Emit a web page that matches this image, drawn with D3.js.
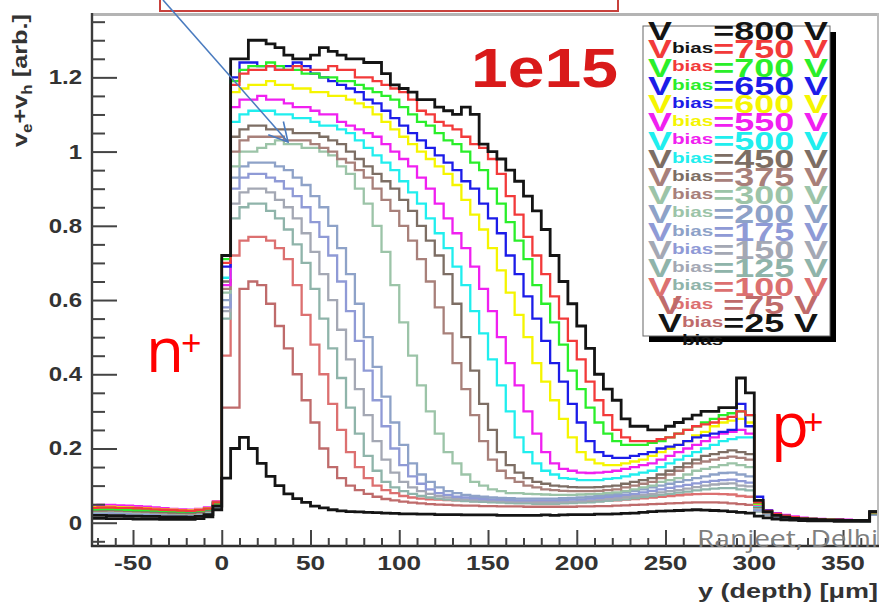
<!DOCTYPE html>
<html>
<head>
<meta charset="utf-8">
<script src="https://cdn.jsdelivr.net/npm/d3@7"></script>
<style>
  html, body { margin: 0; padding: 0; background: #ffffff; }
  svg { display: block; }
</style>
</head>
<body>
<svg id="chart" width="883" height="606"></svg>
<script>
// Histogram binning along the sensor depth (µm): 89 bins of 5 µm starting at -75
const binStart = -75;
const binWidth = 5;

// Bias voltages, in legend order
const biasLabels = ["800", "750", "700", "650", "600", "550", "500", "450", "375",
                    "300", "200", "175", "150", "125", "100", "75", "25"];
const biasColors = ["#141414", "#f23a3a", "#2aee2a", "#1c1ce8", "#f5f500", "#f020f0",
                    "#20eeee", "#7d6e64", "#a8807a", "#9cc4a8", "#8ea2c8", "#8f9ad6",
                    "#a4a8b4", "#8fb4aa", "#dc7070", "#bf6b6b", "#141414"];

// Drift-velocity sum v_e + v_h per bin (arb. units), one array per bias voltage
const v800 = [0.020,0.020,0.019,0.019,0.018,0.018,0.017,0.017,0.016,0.016,0.016,0.015,0.017,0.022,0.045,
  0.72,1.25,1.25,1.30,1.30,1.29,1.28,1.26,1.25,1.25, 1.26,1.28,1.27,1.26,1.25,1.25,1.24,1.24,1.21,1.18,
  1.17,1.16,1.14,1.14,1.12,1.11,1.10,1.12,1.10,1.02, 1.00,0.98,0.95,0.92,0.88,0.84,0.79,0.72,0.65,0.59,
  0.53,0.47,0.40,0.36,0.33,0.28,0.26,0.26,0.25,0.25, 0.26,0.27,0.28,0.29,0.30,0.30,0.31,0.31,0.39,0.35,
  0.060,0.030,0.020,0.015,0.012,0.010,0.009,0.008,0.007,0.007,0.006,0.006,0.006,0.030];
const v750 = [0.040,0.041,0.041,0.040,0.040,0.039,0.038,0.036,0.035,0.034,0.033,0.032,0.034,0.038,0.055,
  0.70,1.18,1.21,1.22,1.22,1.23,1.22,1.22,1.23,1.22, 1.22,1.22,1.23,1.22,1.22,1.20,1.20,1.19,1.18,1.17,
  1.16,1.14,1.11,1.10,1.08,1.07,1.06,1.04,1.02,1.01, 0.98,0.94,0.88,0.83,0.77,0.72,0.67,0.61,0.55,0.49,
  0.44,0.38,0.33,0.29,0.25,0.23,0.22,0.22,0.22,0.225, 0.23,0.24,0.25,0.26,0.265,0.27,0.28,0.285,0.30,0.29,
  0.055,0.032,0.024,0.019,0.015,0.012,0.010,0.009,0.008,0.008,0.007,0.007,0.007,0.028];
const v700 = [0.036,0.037,0.037,0.036,0.035,0.034,0.034,0.033,0.032,0.031,0.030,0.030,0.032,0.036,0.052,
  0.71,1.19,1.22,1.23,1.23,1.24,1.23,1.22,1.22,1.21, 1.21,1.20,1.20,1.19,1.19,1.18,1.17,1.16,1.15,1.14,
  1.12,1.10,1.08,1.07,1.05,1.03,1.02,1.00,0.97,0.95, 0.90,0.86,0.81,0.76,0.71,0.64,0.59,0.54,0.48,0.41,
  0.36,0.31,0.27,0.24,0.22,0.21,0.21,0.21,0.215,0.22, 0.23,0.24,0.25,0.26,0.27,0.28,0.29,0.295,0.30,0.29,
  0.052,0.031,0.023,0.018,0.014,0.012,0.010,0.009,0.008,0.007,0.007,0.006,0.006,0.027];
const v650 = [0.038,0.038,0.039,0.038,0.037,0.036,0.035,0.034,0.033,0.032,0.031,0.030,0.032,0.037,0.054,
  0.69,1.20,1.24,1.24,1.23,1.23,1.22,1.23,1.24,1.23, 1.21,1.20,1.19,1.18,1.17,1.16,1.14,1.13,1.11,1.09,
  1.07,1.05,1.03,1.01,0.99,0.97,0.95,0.92,0.90,0.86, 0.82,0.78,0.72,0.67,0.61,0.55,0.49,0.43,0.38,0.32,
  0.27,0.22,0.19,0.18,0.175,0.175,0.18,0.185,0.19,0.20, 0.205,0.21,0.22,0.23,0.235,0.24,0.245,0.25,0.32,0.26,
  0.070,0.033,0.024,0.019,0.015,0.012,0.010,0.009,0.008,0.008,0.007,0.007,0.007,0.028];
const v600 = [0.042,0.042,0.043,0.042,0.041,0.040,0.039,0.037,0.036,0.035,0.034,0.033,0.035,0.039,0.056,
  0.72,1.16,1.17,1.18,1.18,1.19,1.18,1.18,1.17,1.17, 1.16,1.16,1.15,1.15,1.14,1.13,1.12,1.10,1.08,1.06,
  1.04,1.02,1.00,0.98,0.96,0.94,0.91,0.87,0.83,0.79, 0.74,0.68,0.62,0.56,0.50,0.43,0.38,0.33,0.28,0.23,
  0.19,0.17,0.16,0.155,0.155,0.16,0.165,0.17,0.18,0.19, 0.20,0.21,0.22,0.235,0.245,0.26,0.27,0.275,0.28,0.27,
  0.050,0.031,0.023,0.018,0.014,0.012,0.010,0.009,0.008,0.007,0.007,0.006,0.006,0.027];
const v550 = [0.047,0.048,0.048,0.047,0.046,0.045,0.043,0.041,0.039,0.037,0.036,0.035,0.037,0.041,0.058,
  0.64,1.12,1.14,1.14,1.15,1.14,1.14,1.13,1.12,1.12, 1.11,1.10,1.10,1.08,1.07,1.06,1.05,1.04,1.02,1.00,
  0.98,0.96,0.93,0.90,0.86,0.82,0.78,0.74,0.69,0.63, 0.57,0.50,0.43,0.37,0.30,0.24,0.19,0.16,0.145,0.14,
  0.135,0.134,0.135,0.137,0.14,0.145,0.15,0.155,0.16,0.17, 0.18,0.19,0.20,0.21,0.22,0.23,0.24,0.245,0.25,0.24,
  0.048,0.033,0.026,0.021,0.017,0.014,0.012,0.010,0.009,0.008,0.008,0.007,0.007,0.028];
const v500 = [0.040,0.040,0.041,0.040,0.039,0.038,0.037,0.035,0.034,0.033,0.032,0.031,0.033,0.038,0.055,
  0.66,1.08,1.10,1.11,1.11,1.11,1.10,1.10,1.09,1.09, 1.08,1.07,1.07,1.06,1.05,1.03,1.01,0.99,0.97,0.95,
  0.92,0.89,0.86,0.82,0.78,0.74,0.69,0.64,0.57,0.51, 0.44,0.37,0.30,0.23,0.19,0.16,0.14,0.13,0.12,0.118,
  0.115,0.115,0.115,0.118,0.12,0.125,0.13,0.135,0.14,0.15, 0.16,0.17,0.18,0.19,0.20,0.21,0.22,0.225,0.23,0.23,
  0.046,0.030,0.023,0.018,0.014,0.012,0.010,0.009,0.008,0.007,0.007,0.006,0.006,0.026];
const v450 = [0.034,0.034,0.035,0.034,0.033,0.032,0.031,0.030,0.029,0.028,0.027,0.027,0.029,0.034,0.052,
  0.65,1.04,1.06,1.07,1.07,1.06,1.06,1.06,1.05,1.05, 1.05,1.04,1.03,1.02,1.00,0.98,0.96,0.94,0.92,0.90,
  0.87,0.84,0.80,0.76,0.72,0.67,0.59,0.50,0.41,0.32, 0.25,0.19,0.155,0.135,0.12,0.11,0.105,0.10,0.098,0.096,
  0.095,0.095,0.096,0.098,0.10,0.105,0.11,0.115,0.12,0.13, 0.14,0.15,0.16,0.17,0.18,0.185,0.19,0.195,0.19,0.185,
  0.044,0.028,0.021,0.016,0.013,0.011,0.009,0.008,0.007,0.007,0.006,0.006,0.006,0.025];
const v375 = [0.032,0.032,0.033,0.032,0.031,0.030,0.029,0.028,0.027,0.026,0.026,0.025,0.027,0.032,0.050,
  0.63,1.00,1.03,1.04,1.04,1.04,1.04,1.03,1.03,1.03, 1.02,1.01,1.00,0.98,0.97,0.95,0.93,0.90,0.87,0.84,
  0.80,0.76,0.71,0.65,0.58,0.51,0.43,0.36,0.29,0.22, 0.17,0.14,0.12,0.11,0.10,0.095,0.09,0.088,0.086,0.085,
  0.085,0.085,0.086,0.088,0.09,0.095,0.10,0.105,0.11,0.12, 0.13,0.14,0.15,0.16,0.165,0.17,0.175,0.178,0.175,0.17,
  0.042,0.027,0.020,0.016,0.013,0.011,0.009,0.008,0.007,0.006,0.006,0.006,0.005,0.024];
const v300 = [0.030,0.030,0.031,0.030,0.029,0.028,0.028,0.027,0.026,0.025,0.024,0.024,0.026,0.030,0.048,
  0.62,0.96,1.00,1.00,1.01,1.02,1.03,1.02,1.02,1.01, 1.01,1.00,0.99,0.96,0.94,0.90,0.86,0.80,0.73,0.64,
  0.54,0.45,0.37,0.30,0.24,0.19,0.16,0.13,0.11,0.10, 0.09,0.085,0.08,0.08,0.078,0.077,0.076,0.075,0.075,0.075,
  0.076,0.077,0.078,0.08,0.082,0.085,0.09,0.095,0.10,0.11, 0.115,0.12,0.13,0.14,0.145,0.15,0.155,0.16,0.155,0.15,
  0.040,0.026,0.019,0.015,0.012,0.010,0.009,0.008,0.007,0.006,0.006,0.005,0.005,0.024];
const v200 = [0.028,0.028,0.029,0.028,0.027,0.027,0.026,0.025,0.024,0.023,0.023,0.022,0.024,0.028,0.046,
  0.60,0.93,0.96,0.97,0.97,0.97,0.96,0.95,0.93,0.91, 0.88,0.85,0.80,0.74,0.67,0.59,0.50,0.42,0.34,0.27,
  0.21,0.16,0.13,0.11,0.095,0.085,0.08,0.075,0.072,0.07, 0.068,0.067,0.066,0.065,0.065,0.065,0.065,0.065,0.066,0.067,
  0.068,0.07,0.072,0.075,0.078,0.082,0.086,0.09,0.095,0.10, 0.105,0.11,0.115,0.12,0.125,0.13,0.134,0.135,0.13,0.125,
  0.036,0.024,0.018,0.014,0.011,0.010,0.008,0.007,0.006,0.006,0.005,0.005,0.005,0.023];
const v175 = [0.026,0.026,0.027,0.026,0.025,0.025,0.024,0.023,0.023,0.022,0.021,0.021,0.023,0.027,0.044,
  0.58,0.90,0.93,0.94,0.94,0.93,0.92,0.90,0.88,0.85, 0.81,0.77,0.72,0.65,0.57,0.49,0.41,0.33,0.26,0.20,
  0.155,0.125,0.105,0.09,0.08,0.075,0.07,0.068,0.066,0.064, 0.063,0.062,0.061,0.06,0.06,0.06,0.06,0.06,0.061,0.062,
  0.063,0.065,0.067,0.07,0.072,0.075,0.078,0.082,0.086,0.09, 0.094,0.098,0.102,0.106,0.11,0.113,0.115,0.116,0.112,0.108,
  0.034,0.023,0.017,0.013,0.011,0.009,0.008,0.007,0.006,0.006,0.005,0.005,0.005,0.022];
const v150 = [0.024,0.024,0.025,0.024,0.024,0.023,0.022,0.022,0.021,0.020,0.020,0.019,0.021,0.025,0.042,
  0.57,0.86,0.89,0.90,0.90,0.89,0.87,0.85,0.82,0.78, 0.73,0.67,0.60,0.52,0.44,0.36,0.29,0.22,0.17,0.135,
  0.11,0.095,0.085,0.078,0.072,0.068,0.065,0.063,0.061,0.06, 0.059,0.058,0.057,0.056,0.056,0.055,0.055,0.055,0.056,0.057,
  0.058,0.06,0.062,0.064,0.066,0.069,0.072,0.075,0.078,0.082, 0.085,0.088,0.092,0.096,0.10,0.103,0.105,0.106,0.10,0.098,
  0.032,0.022,0.016,0.013,0.010,0.009,0.008,0.007,0.006,0.005,0.005,0.005,0.005,0.022];
const v125 = [0.022,0.022,0.023,0.022,0.022,0.021,0.021,0.020,0.019,0.019,0.018,0.018,0.020,0.024,0.040,
  0.55,0.82,0.85,0.86,0.86,0.84,0.82,0.79,0.75,0.70, 0.63,0.55,0.47,0.39,0.31,0.24,0.18,0.14,0.11,0.095,
  0.085,0.078,0.072,0.068,0.065,0.062,0.06,0.058,0.057,0.056, 0.055,0.054,0.053,0.052,0.052,0.051,0.051,0.051,0.052,0.053,
  0.054,0.055,0.057,0.059,0.061,0.063,0.066,0.069,0.072,0.075, 0.078,0.081,0.084,0.087,0.09,0.092,0.093,0.093,0.09,0.087,
  0.030,0.021,0.016,0.012,0.010,0.009,0.007,0.006,0.006,0.005,0.005,0.005,0.004,0.021];
const v100 = [0.034,0.035,0.035,0.034,0.033,0.032,0.031,0.030,0.029,0.028,0.027,0.026,0.028,0.032,0.048,
  0.45,0.72,0.76,0.77,0.77,0.76,0.74,0.71,0.64,0.56, 0.48,0.40,0.32,0.25,0.19,0.15,0.12,0.10,0.088,0.08,
  0.072,0.068,0.065,0.063,0.062,0.061,0.06,0.059,0.058,0.058, 0.057,0.056,0.056,0.055,0.055,0.055,0.055,0.055,0.055,0.056,
  0.056,0.057,0.058,0.059,0.06,0.062,0.064,0.066,0.068,0.07, 0.072,0.074,0.076,0.077,0.078,0.078,0.077,0.076,0.072,0.07,
  0.034,0.025,0.019,0.015,0.012,0.010,0.009,0.008,0.007,0.006,0.006,0.006,0.005,0.022];
const v75 = [0.038,0.039,0.039,0.038,0.037,0.036,0.035,0.033,0.032,0.031,0.030,0.029,0.031,0.035,0.050,
  0.31,0.31,0.63,0.65,0.64,0.59,0.53,0.47,0.40,0.33, 0.27,0.20,0.15,0.12,0.10,0.088,0.078,0.07,0.064,0.06,
  0.057,0.054,0.052,0.05,0.049,0.048,0.047,0.046,0.046,0.045, 0.045,0.044,0.044,0.044,0.043,0.043,0.043,0.043,0.043,0.043,
  0.044,0.044,0.045,0.045,0.046,0.047,0.048,0.049,0.05,0.051, 0.052,0.053,0.054,0.055,0.055,0.055,0.054,0.052,0.05,0.048,
  0.032,0.024,0.019,0.015,0.012,0.010,0.009,0.008,0.007,0.006,0.006,0.005,0.005,0.021];
const v25 = [0.012,0.012,0.011,0.011,0.011,0.010,0.010,0.010,0.009,0.009,0.009,0.009,0.011,0.016,0.035,
  0.12,0.20,0.23,0.20,0.16,0.125,0.10,0.078,0.065,0.055, 0.045,0.04,0.035,0.032,0.03,0.029,0.028,0.027,0.026,0.025,
  0.024,0.024,0.023,0.023,0.022,0.022,0.022,0.021,0.021,0.021, 0.021,0.02,0.02,0.02,0.02,0.02,0.021,0.02,0.021,0.022,
  0.022,0.022,0.023,0.023,0.024,0.025,0.026,0.028,0.03,0.031, 0.032,0.033,0.034,0.035,0.034,0.033,0.032,0.03,0.028,0.026,
  0.018,0.013,0.010,0.008,0.007,0.006,0.005,0.005,0.005,0.004,0.004,0.004,0.004,0.030];

const seriesValues = [v800, v750, v700, v650, v600, v550, v500, v450, v375,
                      v300, v200, v175, v150, v125, v100, v75, v25];

// Axis ticks
const xTickValues = [-50, 0, 50, 100, 150, 200, 250, 300, 350];
const xTickLabels = ["-50", "0", "50", "100", "150", "200", "250", "300", "350"];
const yTickValues = [0, 0.2, 0.4, 0.6, 0.8, 1, 1.2];
const yTickLabels = ["0", "0.2", "0.4", "0.6", "0.8", "1", "1.2"];

const series = biasLabels.map((b, i) => ({ bias: b, color: biasColors[i], values: seriesValues[i] }));

const svg = d3.select("#chart");
const frame = { left: 92, right: 878, top: 15, bottom: 546 };

const x = d3.scaleLinear().domain([-73.1, 369.7]).range([frame.left, frame.right]);
const y = d3.scaleLinear().domain([-0.0627, 1.368]).range([frame.bottom, frame.top]);

svg.append("rect").attr("width", 883).attr("height", 606).attr("fill", "#ffffff");

svg.append("defs").append("clipPath").attr("id", "plotClip")
  .append("rect")
  .attr("x", frame.left).attr("y", frame.top)
  .attr("width", frame.right - frame.left).attr("height", frame.bottom - frame.top);

// Histogram outlines (step lines)
const stepLine = d3.line()
  .x(d => x(d[0]))
  .y(d => y(d[1]))
  .curve(d3.curveStepAfter);

function histPoints(values) {
  const pts = values.map((v, i) => [binStart + i * binWidth, v]);
  pts.push([binStart + values.length * binWidth, values[values.length - 1]]);
  return pts;
}

// low bias first, high bias on top, the 25 V curve last
const drawOrder = [15, 14, 13, 12, 11, 10, 9, 8, 7, 6, 5, 4, 3, 2, 1, 0, 16];
const plot = svg.append("g").attr("clip-path", "url(#plotClip)");
plot.selectAll("path.hist")
  .data(drawOrder.map(i => series[i]))
  .join("path")
  .attr("class", "hist")
  .attr("d", d => stepLine(histPoints(d.values)))
  .attr("fill", "none")
  .attr("stroke", d => d.color)
  .attr("stroke-width", d => d.color === "#141414" ? 2.8 : 2.3)
  .attr("stroke-linejoin", "miter");

// Frame
const frameG = svg.append("g");
frameG.append("line").attr("x1", frame.left).attr("x2", frame.right + 1)
  .attr("y1", frame.top - 0.5).attr("y2", frame.top - 0.5)
  .attr("stroke", "#b4b4b4").attr("stroke-width", 3);
frameG.append("line").attr("x1", frame.right).attr("x2", frame.right)
  .attr("y1", frame.top - 2).attr("y2", frame.bottom)
  .attr("stroke", "#bcbcbc").attr("stroke-width", 2);

// Inward ticks
const yMinor = d3.range(-1, 28).map(k => +(k * 0.05).toFixed(2))
  .filter(v => Math.abs(v / 0.2 - Math.round(v / 0.2)) > 1e-6);
const xMinor = d3.range(-70, 370, 10).filter(v => v % 50 !== 0);

function styleTicks(g) {
  g.select(".domain").remove();
  g.selectAll("line").attr("stroke", "#444").attr("stroke-width", 2);
}
svg.append("g").attr("transform", `translate(${frame.left},0)`)
  .call(d3.axisRight(y).tickValues(yMinor).tickSize(13).tickFormat(""))
  .call(styleTicks);
svg.append("g").attr("transform", `translate(${frame.left},0)`)
  .call(d3.axisRight(y).tickValues(yTickValues).tickSize(25).tickFormat(""))
  .call(styleTicks);
svg.append("g").attr("transform", `translate(0,${frame.bottom})`)
  .call(d3.axisTop(x).tickValues(xMinor).tickSize(8).tickFormat(""))
  .call(styleTicks);
svg.append("g").attr("transform", `translate(0,${frame.bottom})`)
  .call(d3.axisTop(x).tickValues(xTickValues).tickSize(16).tickFormat(""))
  .call(styleTicks);

// Axis lines
frameG.append("line").attr("x1", frame.left).attr("x2", frame.left)
  .attr("y1", frame.top - 2).attr("y2", frame.bottom + 1)
  .attr("stroke", "#3c3c3c").attr("stroke-width", 2.4);
frameG.append("line").attr("x1", frame.left - 1).attr("x2", frame.right + 1)
  .attr("y1", frame.bottom).attr("y2", frame.bottom)
  .attr("stroke", "#2e2e2e").attr("stroke-width", 2.6);

// Tick labels
const labelFont = "'Liberation Sans', Arial, Helvetica, sans-serif";
svg.append("g").selectAll("text")
  .data(yTickValues)
  .join("text")
  .attr("transform", d => `translate(82,${y(d) + 7}) scale(1.2,1)`)
  .attr("text-anchor", "end")
  .attr("font-family", labelFont).attr("font-weight", "bold").attr("font-size", 20)
  .attr("fill", "#333")
  .text((d, i) => yTickLabels[i]);

svg.append("g").selectAll("text")
  .data(xTickValues)
  .join("text")
  .attr("transform", d => `translate(${x(d)},570) scale(1.25,1)`)
  .attr("text-anchor", "middle")
  .attr("font-family", labelFont).attr("font-weight", "bold").attr("font-size", 21)
  .attr("fill", "#333")
  .text((d, i) => xTickLabels[i]);

// Axis titles
svg.append("text")
  .attr("x", 698).attr("y", 598)
  .attr("text-anchor", "start")
  .attr("font-family", labelFont).attr("font-weight", "bold").attr("font-size", 21)
  .attr("fill", "#333")
  .attr("textLength", 180).attr("lengthAdjust", "spacingAndGlyphs")
  .text("y (depth) [μm]");

const yTitle = svg.append("text")
  .attr("transform", "translate(27,14) rotate(-90)")
  .attr("text-anchor", "end")
  .attr("font-family", labelFont).attr("font-weight", "bold").attr("font-size", 21)
  .attr("fill", "#333")
  .attr("textLength", 133).attr("lengthAdjust", "spacingAndGlyphs");
yTitle.append("tspan").text("v");
yTitle.append("tspan").attr("font-size", 14).attr("dy", 5).text("e");
yTitle.append("tspan").attr("dy", -5).text("+v");
yTitle.append("tspan").attr("font-size", 14).attr("dy", 5).text("h");
yTitle.append("tspan").attr("dy", -5).text(" [arb.]");

// Fluence label
svg.append("text")
  .attr("transform", "translate(471,87) scale(1.18,1)")
  .attr("font-family", labelFont).attr("font-weight", "bold").attr("font-size", 56)
  .attr("fill", "#d91a1a")
  .text("1e15");

// Legend
const legend = svg.append("g");
legend.append("rect").attr("x", 649).attr("y", 32).attr("width", 187).attr("height", 310)
  .attr("fill", "#000");
legend.append("rect").attr("x", 643).attr("y", 26).attr("width", 187).attr("height", 310)
  .attr("fill", "#fff").attr("stroke", "#666").attr("stroke-width", 1);
legend.selectAll("text")
  .data(series)
  .join("text")
  .attr("transform", (d, i) => `translate(738,${40 + 18.25 * i}) scale(1.38,1)`)
  .attr("text-anchor", "middle")
  .attr("font-family", labelFont).attr("font-weight", "bold").attr("font-size", 26)
  .attr("fill", d => d.color)
  .each(function (d) {
    const t = d3.select(this);
    t.append("tspan").text("V");
    t.append("tspan").attr("font-size", 15).attr("dy", 13).text("bias");
    t.append("tspan").attr("dy", -13).text(`=${d.bias} V`);
  });

// Electrode labels
const noteFont = "'Open Sans', 'Noto Sans', sans-serif";
svg.append("text").attr("x", 146).attr("y", 372)
  .attr("font-family", noteFont).attr("font-size", 62).attr("fill", "#ff0000").text("n");
svg.append("text").attr("x", 181).attr("y", 356)
  .attr("font-family", noteFont).attr("font-size", 36).attr("fill", "#ff0000").text("+");
svg.append("text").attr("x", 771).attr("y", 447)
  .attr("font-family", noteFont).attr("font-size", 62).attr("fill", "#ff0000").text("p");
svg.append("text").attr("x", 803).attr("y", 435)
  .attr("font-family", noteFont).attr("font-size", 36).attr("fill", "#ff0000").text("+");

// Credit
svg.append("text").attr("x", 697).attr("y", 547)
  .attr("text-anchor", "start")
  .attr("font-family", noteFont).attr("font-size", 24).attr("fill", "#7f7f7f")
  .attr("textLength", 181).attr("lengthAdjust", "spacingAndGlyphs")
  .text("Ranjeet, Delhi");

// Callout box and arrow
svg.append("rect").attr("x", 160).attr("y", -12).attr("width", 458).attr("height", 23)
  .attr("fill", "#fff").attr("stroke", "#c8413c").attr("stroke-width", 2);

const arrowStart = [163, 0], arrowTip = [288, 142];
const ang = Math.atan2(arrowTip[1] - arrowStart[1], arrowTip[0] - arrowStart[0]) + Math.PI;
const headLen = 21, headSpread = 0.5;
const arrow = svg.append("g").attr("stroke", "#4a7bbf").attr("stroke-width", 1.6).attr("fill", "none");
arrow.append("line").attr("x1", arrowStart[0]).attr("y1", arrowStart[1])
  .attr("x2", arrowTip[0]).attr("y2", arrowTip[1]);
arrow.append("polyline").attr("points", [
  [arrowTip[0] + headLen * Math.cos(ang - headSpread), arrowTip[1] + headLen * Math.sin(ang - headSpread)],
  arrowTip,
  [arrowTip[0] + headLen * Math.cos(ang + headSpread), arrowTip[1] + headLen * Math.sin(ang + headSpread)]
].map(p => p.join(",")).join(" "));
</script>
</body>
</html>
